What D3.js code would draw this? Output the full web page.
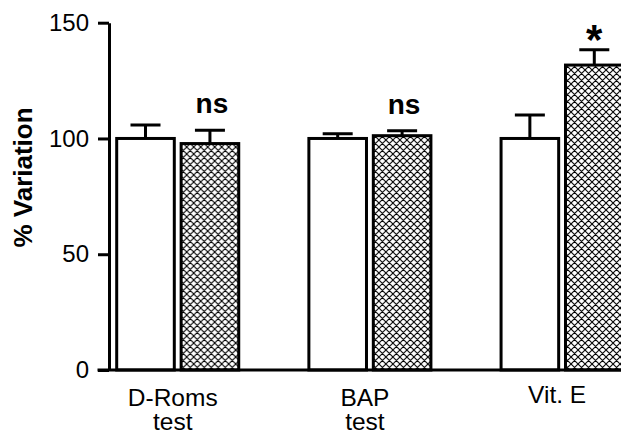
<!DOCTYPE html>
<html lang="en">
<head>
  <meta charset="UTF-8">
  <title>% Variation</title>
  <style>
    body { margin: 0; background: #fff; }
    svg { display: block; font-family: "Liberation Sans", Arial, sans-serif; }
    .tick text { font-size: 24px; fill: #000; }
    .domain, .tick line { stroke: #000; stroke-width: 3px; }
    .bar { stroke: #000; stroke-width: 3px; }
    .err { stroke: #000; stroke-width: 3px; fill: none; }
  </style>
</head>
<body>
  <svg width="621" height="435"></svg>
  <script src="https://d3js.org/d3.v7.min.js"></script>
  <script>
    const categories = [["D-Roms", "test"], ["BAP", "test"], ["Vit. E"]];
    const control = [100, 100, 100];
    const controlErr = [5.8, 2.0, 10.1];
    const treated = [97.8, 101.2, 131.7];
    const treatedErr = [5.7, 2.1, 6.6];
    const marks = ["ns", "ns", "*"];
    const yTicks = [0, 50, 100, 150];

    const svg = d3.select("svg");
    const groups = categories.map(c => c.join(" "));

    const y = d3.scaleLinear().domain([0, 150]).range([370, 22.7]);
    const x = d3.scaleBand().domain(groups).range([116.7, 623.1]).paddingInner(0.365).paddingOuter(0);
    const xs = d3.scaleBand().domain(["control", "treated"]).range([0, x.bandwidth()]).paddingInner(0.106);

    // cross-hatch for treated bars
    const P = 7;
    const pat = svg.append("defs").append("pattern")
      .attr("id", "hatch").attr("patternUnits", "userSpaceOnUse")
      .attr("width", P).attr("height", P);
    pat.append("rect").attr("width", P).attr("height", P).attr("fill", "#fff");
    pat.append("path")
      .attr("d", `M0,0L${P},${P}M${P},0L0,${P}M-1,${P-1}L1,${P+1}M${P-1},-1L${P+1},1M-1,1L1,-1M${P-1},${P+1}L${P+1},${P-1}`)
      .attr("stroke", "#000").attr("stroke-width", 1.1);

    const rows = groups.map((g, i) => ({
      g, i,
      bars: [
        {key: "control", v: control[i], e: controlErr[i]},
        {key: "treated", v: treated[i], e: treatedErr[i]}
      ]
    }));

    const gg = svg.selectAll("g.grp").data(rows).join("g")
      .attr("class", "grp")
      .attr("transform", d => `translate(${x(d.g)},0)`);

    const bar = gg.selectAll("g.b").data(d => d.bars).join("g").attr("class", "b");

    // error bars (upper only)
    bar.append("path").attr("class", "err")
      .attr("d", d => {
        const cx = xs(d.key) + xs.bandwidth() / 2;
        return `M${cx},${y(d.v)}V${y(d.v + d.e)}M${cx - 15},${y(d.v + d.e)}H${cx + 15}`;
      });

    bar.append("rect").attr("class", "bar")
      .attr("x", d => xs(d.key))
      .attr("width", xs.bandwidth())
      .attr("y", d => y(d.v))
      .attr("height", d => y(0) - y(d.v))
      .attr("fill", d => d.key === "treated" ? "url(#hatch)" : "#fff");

    // significance marks
    gg.append("text")
      .attr("x", d => xs("treated") + xs.bandwidth() / 2 + (marks[d.i] === "*" ? 0 : 2))
      .attr("y", d => y(treated[d.i] + treatedErr[d.i]) + (marks[d.i] === "*" ? 4 : -17))
      .attr("text-anchor", "middle")
      .style("font-size", d => marks[d.i] === "*" ? "42px" : "28px")
      .style("font-weight", "bold")
      .text(d => marks[d.i]);

    // y axis
    svg.append("g").attr("transform", "translate(109,0)")
      .call(d3.axisLeft(y).tickValues(yTicks).tickSize(11).tickSizeOuter(0).tickPadding(9));

    // x axis line and labels
    const xa = svg.append("g").attr("transform", `translate(0,${y(0)})`)
      .call(d3.axisBottom(x).tickSize(0).tickSizeOuter(0).tickFormat(""));
    xa.select(".domain").attr("d", "M97.5,0H621");
    xa.selectAll(".tick text").remove();
    xa.selectAll(".tick").each(function(d, i) {
      const t = d3.select(this).append("text")
        .attr("x", -5).attr("text-anchor", "middle")
        .attr("y", categories[i].length > 1 ? 35.7 : 32.5)
        .style("font-size", "24.5px").attr("fill", "#000");
      t.selectAll("tspan").data(categories[i]).join("tspan")
        .attr("x", -5).attr("dy", (c, j) => j ? 24.3 : 0).text(c => c);
    });

    // y label
    svg.append("text")
      .attr("transform", "translate(32,177.5) rotate(-90)")
      .attr("text-anchor", "middle")
      .style("font-size", "26px").style("font-weight", "bold")
      .text("% Variation");
  </script>
</body>
</html>
